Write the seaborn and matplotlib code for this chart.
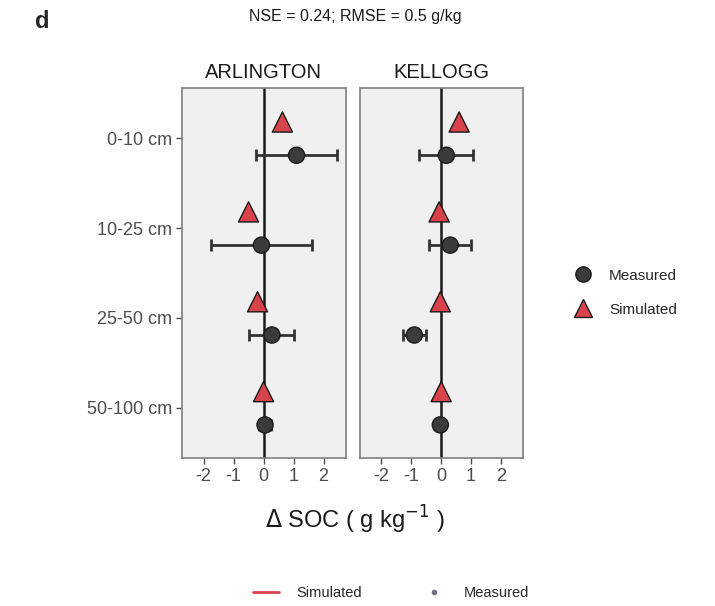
import matplotlib
matplotlib.use("Agg")
import matplotlib.pyplot as plt
from matplotlib.lines import Line2D
import seaborn as sns
import pandas as pd

sns.set_theme(style="white")
plt.rcParams['font.family'] = ['Liberation Sans', 'DejaVu Sans']

# data
depths = ["0-10 cm", "10-25 cm", "25-50 cm", "50-100 cm"]
sites = ["ARLINGTON", "KELLOGG"]
arl_measured = [1.1, -0.07, 0.28, 0.05]
arl_err = [1.35, 1.68, 0.75, 0.2]
arl_simulated = [0.63, -0.5, -0.2, 0.0]
kel_measured = [0.17, 0.3, -0.9, -0.03]
kel_err = [0.9, 0.7, 0.38, 0.0]
kel_simulated = [0.6, -0.07, -0.03, 0.0]
x_ticks = [-2, -1, 0, 1, 2]

rows = []
for site, meas, err, sim in [("ARLINGTON", arl_measured, arl_err, arl_simulated),
                             ("KELLOGG", kel_measured, kel_err, kel_simulated)]:
    for i, d in enumerate(depths):
        rows.append(dict(site=site, depth=d, pos=i, type="Measured", value=meas[i], err=err[i]))
        rows.append(dict(site=site, depth=d, pos=i, type="Simulated", value=sim[i], err=0.0))
df = pd.DataFrame(rows)
# dodge the two types around the depth position
df["y"] = df["pos"] + df["type"].map({"Measured": 0.19, "Simulated": -0.18})

pal = {"Measured": "#3b3b3b", "Simulated": "#d8434b"}
marks = {"Measured": "o", "Simulated": "^"}
msizes = {"Measured": 135, "Simulated": 210}

fig = plt.figure(figsize=(7.15, 6.06), dpi=100)
axes = [fig.add_axes([0.254, 0.244, 0.230, 0.611]),
        fig.add_axes([0.503, 0.244, 0.229, 0.611])]

grey = "#4d4d4d"
for ax, site in zip(axes, sites):
    sub = df[df.site == site]
    ax.set_facecolor("#f0f0f0")
    ax.axvline(0, color="#1a1a1a", lw=1.8, zorder=1)
    m = sub[sub.type == "Measured"]
    ax.errorbar(m["value"], m["y"], xerr=m["err"], fmt="none", ecolor="#333333",
                elinewidth=2, capsize=4, capthick=2, zorder=2)
    sns.scatterplot(data=sub, x="value", y="y", hue="type", style="type", size="type",
                    palette=pal, markers=marks, sizes=msizes, edgecolor="#1a1a1a",
                    linewidth=1, legend=False, ax=ax, zorder=3)
    ax.set_xlim(-2.73, 2.75)
    ax.set_ylim(3.56, -0.56)
    ax.set_xticks(x_ticks)
    ax.set_xticklabels([str(t) for t in x_ticks])
    ax.set_yticks(range(len(depths)))
    ax.set_xlabel("")
    ax.set_ylabel("")
    ax.set_title(site, fontsize=14.5, color="#1a1a1a", pad=7)
    for sp in ax.spines.values():
        sp.set_color("#7f7f7f")
        sp.set_linewidth(1.2)
    ax.tick_params(axis="both", which="both", length=4, width=1, color=grey,
                   labelsize=13, labelcolor=grey, bottom=True, left=True, pad=3)

axes[0].set_yticklabels(depths)
axes[1].set_yticklabels([])
axes[1].tick_params(axis="y", left=False)

fig.text(0.497, 0.142, r"$\Delta$ SOC ( g kg$^{\mathrm{-1}}$ )", ha="center", va="center",
         fontsize=17, color="#1a1a1a")
fig.text(0.497, 0.972, "NSE = 0.24; RMSE = 0.5 g/kg", ha="center", va="center",
         fontsize=11.5, color="#1a1a1a")
fig.text(0.049, 0.965, "d", ha="left", va="center", fontsize=17, fontweight="bold")

side_handles = [
    Line2D([], [], marker="o", ls="none", markersize=11, markerfacecolor=pal["Measured"],
           markeredgecolor="#1a1a1a", label="Measured"),
    Line2D([], [], marker="^", ls="none", markersize=13, markerfacecolor=pal["Simulated"],
           markeredgecolor="#1a1a1a", label="Simulated"),
]
fig.legend(handles=side_handles, loc="center left", bbox_to_anchor=(0.775, 0.517),
           frameon=False, fontsize=11, handletextpad=0.7, labelspacing=1.3)

bottom_handles = [
    Line2D([], [], color="#d8434b", lw=2, label="Simulated"),
    Line2D([], [], marker="o", ls="none", markersize=3, color="#6a6a8a", label="Measured"),
]
fig.legend(handles=bottom_handles, loc="center", bbox_to_anchor=(0.547, 0.022), ncol=2,
           frameon=False, fontsize=10.5, handlelength=1.8, handletextpad=1.2,
           columnspacing=4.0)

fig.savefig("out.png", dpi=100)
